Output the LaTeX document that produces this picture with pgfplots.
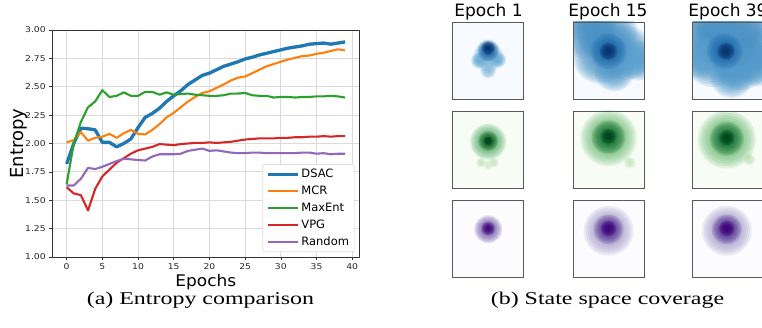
\documentclass[border=0pt]{standalone}
\usepackage{pgfplots}
\usepackage{pgfplotstable}
\pgfplotsset{compat=1.18}
\usepackage{fontspec}
\setmainfont{DejaVu Sans}
\newfontfamily\djv{DejaVu Sans}
\newfontfamily\djvtick[FakeStretch=1.15]{DejaVu Sans}
\newfontfamily\djvx[FakeStretch=1.06]{DejaVu Sans}
\newfontfamily\capfont[FakeStretch=1.33]{Liberation Serif}

\definecolor{tabblue}{HTML}{1F77B4}
\definecolor{taborange}{HTML}{FF7F0E}
\definecolor{tabgreen}{HTML}{2CA02C}
\definecolor{tabred}{HTML}{D62728}
\definecolor{tabpurple}{HTML}{9467BD}
\definecolor{bgblue}{RGB}{247,251,255}
\definecolor{bggreen}{RGB}{247,252,245}
\definecolor{bgpurple}{RGB}{252,251,253}

\pgfplotstableread{
epoch dsac mcr maxent vpg random
0 1.82 2.01 1.64 1.615 1.63
1 2.00 2.03 2.00 1.56 1.63
2 2.135 2.10 2.19 1.545 1.69
3 2.13 2.025 2.32 1.41 1.785
4 2.12 2.05 2.37 1.60 1.775
5 2.01 2.06 2.47 1.71 1.795
6 2.01 2.085 2.41 1.77 1.82
7 1.97 2.05 2.42 1.83 1.845
8 2.00 2.09 2.45 1.87 1.865
9 2.04 2.12 2.42 1.91 1.86
10 2.14 2.085 2.42 1.94 1.855
11 2.23 2.08 2.455 1.955 1.85
12 2.265 2.12 2.455 1.97 1.885
13 2.31 2.17 2.43 1.995 1.905
14 2.37 2.23 2.45 1.99 1.905
15 2.42 2.27 2.43 1.985 1.905
16 2.465 2.32 2.435 1.995 1.91
17 2.52 2.37 2.44 2.00 1.935
18 2.56 2.41 2.43 2.005 1.945
19 2.60 2.445 2.425 2.005 1.955
20 2.62 2.46 2.42 2.01 1.935
21 2.65 2.49 2.42 2.005 1.94
22 2.68 2.52 2.425 2.01 1.93
23 2.70 2.555 2.44 2.015 1.92
24 2.72 2.58 2.44 2.025 1.915
25 2.745 2.59 2.445 2.035 1.915
26 2.76 2.62 2.425 2.04 1.92
27 2.78 2.65 2.42 2.045 1.92
28 2.795 2.68 2.42 2.045 1.915
29 2.81 2.70 2.405 2.045 1.915
30 2.825 2.72 2.41 2.05 1.915
31 2.84 2.74 2.41 2.05 1.915
32 2.85 2.755 2.405 2.055 1.915
33 2.86 2.77 2.41 2.055 1.92
34 2.875 2.775 2.41 2.06 1.92
35 2.88 2.79 2.415 2.06 1.91
36 2.885 2.80 2.415 2.065 1.915
37 2.875 2.815 2.42 2.06 1.905
38 2.885 2.83 2.415 2.065 1.91
39 2.895 2.82 2.405 2.065 1.91
}\entropydata

% soft blob: stacked concentric translucent discs
\newdimen\blobrad
\pgfdeclareplotmark{softblob}{%
  \pgfscope
  \pgfsetfillopacity{0.17}%
  \foreach \f in {1.0,0.92,0.84,0.76,0.68,0.60,0.52,0.44,0.36,0.28,0.20,0.12}{%
    \pgfmathsetlength{\blobrad}{\f*\pgfplotmarksize}%
    \pgfpathcircle{\pgfpointorigin}{\blobrad}%
    \pgfusepath{fill}%
  }%
  \endpgfscope}

\pgfplotsset{
  colormap={hmblues}{rgb255=(247,251,255) rgb255=(198,219,239) rgb255=(107,174,214) rgb255=(33,113,181) rgb255=(8,48,107)},
  colormap={hmgreens}{rgb255=(247,252,245) rgb255=(199,233,192) rgb255=(116,196,118) rgb255=(35,139,69) rgb255=(0,68,27)},
  colormap={hmpurples}{rgb255=(252,251,253) rgb255=(218,218,235) rgb255=(158,154,200) rgb255=(106,81,163) rgb255=(63,0,125)},
  hm/.style 2 args={anchor=south west, scale only axis, width=71pt, height=77pt,
    xmin=0, xmax=1, ymin=0, ymax=1, ticks=none,
    axis line style={draw=black!65, line width=0.8pt},
    clip marker paths=true, point meta min=0, point meta max=1, axis on top,
    colormap name=#1, axis background/.style={fill=#2}},
  blob/.style={scatter, only marks, mark=softblob, point meta=explicit, mark size=#1,
    scatter/use mapped color={draw=none, fill=mapped color}},
}

\begin{document}
\begin{tikzpicture}
\useasboundingbox (0pt,0pt) rectangle (762pt,328pt);

\begin{axis}[at={(52.7pt,71pt)}, anchor=south west, scale only axis,
  width=306.3pt, height=227pt,
  xmin=-1.95, xmax=40.95, ymin=1, ymax=3,
  xtick={0,5,10,15,20,25,30,35,40},
  ytick={1,1.25,1.5,1.75,2,2.25,2.5,2.75,3},
  yticklabel style={/pgf/number format/.cd, fixed, fixed zerofill, precision=2},
  /pgf/number format/assume math mode=true,
  ticklabel style={font=\djvtick\fontsize{8}{9}\selectfont, text=black!85},
  tick align=outside, tick pos=left, major tick length=3.5pt,
  tick style={black!80, line width=0.6pt},
  axis line style={black!80, line width=0.7pt},
  grid=major, grid style={gray!28, line width=0.8pt},
  xlabel={Epochs}, ylabel={Entropy},
  xlabel style={font=\djvx\fontsize{16}{17}\selectfont, at={(axis description cs:0.5,-0.132)}, anchor=base},
  ylabel style={font=\djv\fontsize{18}{19}\selectfont, at={(axis description cs:-0.112,0.5)}, anchor=center},
  legend style={at={(0.985,0.022)}, anchor=south east,
    font=\djv\fontsize{11.5}{13}\selectfont, draw=black!20, fill=white,
    rounded corners=2pt, inner xsep=3pt, inner ysep=2pt, row sep=1.8pt,
    cells={anchor=west}, nodes={inner sep=2.2pt, text height=8.5pt, text depth=2.3pt}},
  legend image code/.code={\draw[#1, line cap=butt] (0pt,0pt) -- (30pt,0pt);},
  line join=round,
]
\addplot[tabblue, line width=3.3pt] table[x=epoch, y=dsac] {\entropydata};
\addplot[taborange, line width=2.1pt] table[x=epoch, y=mcr] {\entropydata};
\addplot[tabgreen, line width=2.1pt] table[x=epoch, y=maxent] {\entropydata};
\addplot[tabred, line width=2.1pt] table[x=epoch, y=vpg] {\entropydata};
\addplot[tabpurple, line width=2.1pt] table[x=epoch, y=random] {\entropydata};
\legend{DSAC, MCR, MaxEnt, VPG, Random}
\end{axis}

% Blue row
\begin{axis}[hm={hmblues}{bgblue}, at={(452.7pt,229pt)}]
\addplot[blob=15pt] coordinates {(0.50,0.55) [0.5]};
\addplot[blob=8pt] coordinates {(0.37,0.50) [0.5] (0.64,0.51) [0.5] (0.50,0.37) [0.42]};
\addplot[blob=11pt] coordinates {(0.50,0.63) [0.8]};
\addplot[blob=7pt] coordinates {(0.50,0.66) [1.0]};
\end{axis}
\begin{axis}[hm={hmblues}{bgblue}, at={(573pt,229pt)}]
\addplot[blob=30pt] coordinates {(0.18,0.92) [0.62] (0.48,0.88) [0.62]};
\addplot[blob=27pt] coordinates {(0.75,0.60) [0.62] (0.38,0.55) [0.62]};
\addplot[blob=20pt] coordinates {(0.58,0.36) [0.58] (0.92,0.50) [0.55]};
\addplot[blob=18pt] coordinates {(0.50,0.62) [0.78]};
\addplot[blob=9pt] coordinates {(0.50,0.62) [1.0]};
\end{axis}
\begin{axis}[hm={hmblues}{bgblue}, at={(692.7pt,229pt)}]
\addplot[blob=32pt] coordinates {(0.15,0.88) [0.62] (0.50,0.90) [0.62] (0.88,0.80) [0.62]};
\addplot[blob=28pt] coordinates {(0.28,0.52) [0.62] (0.68,0.48) [0.62]};
\addplot[blob=22pt] coordinates {(0.55,0.30) [0.58] (0.92,0.45) [0.58] (0.08,0.55) [0.55]};
\addplot[blob=18pt] coordinates {(0.45,0.62) [0.78]};
\addplot[blob=9pt] coordinates {(0.47,0.62) [1.0]};
\end{axis}

% Green row
\begin{axis}[hm={hmgreens}{bggreen}, at={(452.7pt,140pt)}]
\addplot[blob=5pt] coordinates {(0.40,0.33) [0.25] (0.58,0.33) [0.25] (0.50,0.30) [0.2]};
\addplot[blob=18pt] coordinates {(0.50,0.60) [0.6]};
\addplot[blob=10pt] coordinates {(0.50,0.61) [0.9]};
\addplot[blob=5pt] coordinates {(0.50,0.61) [1.0]};
\end{axis}
\begin{axis}[hm={hmgreens}{bggreen}, at={(573pt,140pt)}]
\addplot[blob=6pt] coordinates {(0.80,0.33) [0.25]};
\addplot[blob=28pt] coordinates {(0.50,0.65) [0.55]};
\addplot[blob=17pt] coordinates {(0.50,0.66) [0.85]};
\addplot[blob=8pt] coordinates {(0.50,0.67) [1.0]};
\end{axis}
\begin{axis}[hm={hmgreens}{bggreen}, at={(692.7pt,140pt)}]
\addplot[blob=6pt] coordinates {(0.80,0.37) [0.25]};
\addplot[blob=29pt] coordinates {(0.48,0.63) [0.55]};
\addplot[blob=17pt] coordinates {(0.48,0.64) [0.85]};
\addplot[blob=8pt] coordinates {(0.48,0.65) [1.0]};
\end{axis}

% Purple row
\begin{axis}[hm={hmpurples}{bgpurple}, at={(452.7pt,51pt)}]
\addplot[blob=14pt] coordinates {(0.50,0.62) [0.7]};
\addplot[blob=7pt] coordinates {(0.50,0.63) [1.0]};
\end{axis}
\begin{axis}[hm={hmpurples}{bgpurple}, at={(573pt,51pt)}]
\addplot[blob=25pt] coordinates {(0.50,0.60) [0.5]};
\addplot[blob=15pt] coordinates {(0.50,0.62) [0.85]};
\addplot[blob=8pt] coordinates {(0.50,0.63) [1.0]};
\end{axis}
\begin{axis}[hm={hmpurples}{bgpurple}, at={(692.7pt,51pt)}]
\addplot[blob=25pt] coordinates {(0.48,0.60) [0.5]};
\addplot[blob=15pt] coordinates {(0.48,0.62) [0.85]};
\addplot[blob=8pt] coordinates {(0.48,0.63) [1.0]};
\end{axis}

\node[font=\djv\fontsize{17}{18}\selectfont, anchor=base] at (488.5pt,311.3pt) {Epoch 1};
\node[font=\djv\fontsize{17}{18}\selectfont, anchor=base] at (608pt,311.3pt) {Epoch 15};
\node[font=\djv\fontsize{17}{18}\selectfont, anchor=base] at (728pt,311.3pt) {Epoch 39};

\node[font=\capfont\fontsize{18}{20}\selectfont, anchor=base] at (200.5pt,23pt) {(a) Entropy comparison};
\node[font=\capfont\fontsize{18}{20}\selectfont, anchor=base] at (607.5pt,23pt) {(b) State space coverage};
\end{tikzpicture}
\end{document}
